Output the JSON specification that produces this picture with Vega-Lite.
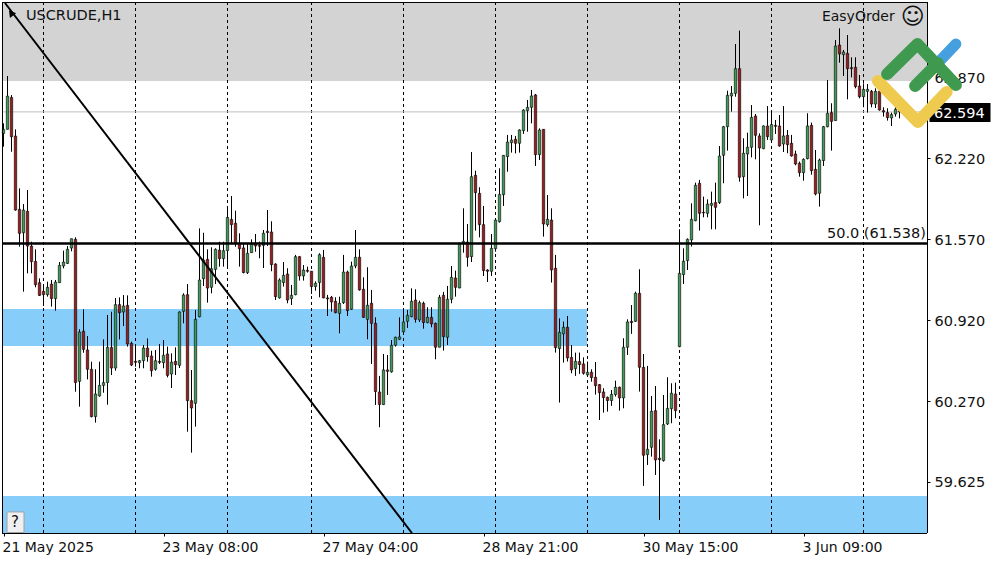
{"$schema":"https://vega.github.io/schema/vega-lite/v6.json","width":925,"height":531,"autosize":{"type":"none"},"padding":{"left":2,"top":2,"right":73,"bottom":29},"background":"#ffffff","config":{"view":{"stroke":null},"axis":{"grid":false,"title":null},"scale":{"continuousPadding":0}},
"datasets":{"candles":[
{"i":0,"o":62.421,"h":62.502,"l":62.315,"c":62.454,"d":"u"},
{"i":1,"o":62.454,"h":62.882,"l":62.454,"c":62.721,"d":"u"},
{"i":2,"o":62.710,"h":62.729,"l":62.274,"c":62.395,"d":"d"},
{"i":3,"o":62.400,"h":62.454,"l":61.801,"c":61.806,"d":"d"},
{"i":4,"o":61.812,"h":61.980,"l":61.512,"c":61.619,"d":"d"},
{"i":5,"o":61.624,"h":61.854,"l":61.151,"c":61.806,"d":"u"},
{"i":6,"o":61.796,"h":61.967,"l":61.298,"c":61.517,"d":"d"},
{"i":7,"o":61.517,"h":61.552,"l":61.298,"c":61.392,"d":"d"},
{"i":8,"o":61.394,"h":61.491,"l":61.186,"c":61.207,"d":"d"},
{"i":9,"o":61.223,"h":61.258,"l":61.116,"c":61.121,"d":"d"},
{"i":10,"o":61.154,"h":61.212,"l":61.036,"c":61.127,"d":"d"},
{"i":11,"o":61.127,"h":61.231,"l":61.111,"c":61.186,"d":"u"},
{"i":12,"o":61.212,"h":61.245,"l":61.031,"c":61.095,"d":"d"},
{"i":13,"o":61.095,"h":61.245,"l":60.998,"c":61.228,"d":"u"},
{"i":14,"o":61.223,"h":61.389,"l":61.223,"c":61.362,"d":"u"},
{"i":15,"o":61.357,"h":61.480,"l":61.338,"c":61.389,"d":"u"},
{"i":16,"o":61.378,"h":61.517,"l":61.373,"c":61.491,"d":"u"},
{"i":17,"o":61.501,"h":61.576,"l":61.475,"c":61.576,"d":"u"},
{"i":18,"o":61.571,"h":61.587,"l":60.348,"c":60.421,"d":"d"},
{"i":19,"o":60.431,"h":60.849,"l":60.228,"c":60.827,"d":"u"},
{"i":20,"o":60.833,"h":61.009,"l":60.661,"c":60.688,"d":"d"},
{"i":21,"o":60.683,"h":60.795,"l":60.447,"c":60.528,"d":"d"},
{"i":22,"o":60.528,"h":60.589,"l":60.142,"c":60.148,"d":"d"},
{"i":23,"o":60.148,"h":60.528,"l":60.100,"c":60.330,"d":"u"},
{"i":24,"o":60.314,"h":60.589,"l":60.308,"c":60.399,"d":"u"},
{"i":25,"o":60.399,"h":60.768,"l":60.340,"c":60.421,"d":"u"},
{"i":26,"o":60.421,"h":60.964,"l":60.244,"c":60.704,"d":"u"},
{"i":27,"o":60.704,"h":60.990,"l":60.482,"c":60.538,"d":"d"},
{"i":28,"o":60.538,"h":61.100,"l":60.517,"c":61.047,"d":"u"},
{"i":29,"o":61.047,"h":61.105,"l":60.768,"c":60.982,"d":"d"},
{"i":30,"o":60.988,"h":61.124,"l":60.875,"c":61.036,"d":"u"},
{"i":31,"o":61.041,"h":61.121,"l":60.710,"c":60.731,"d":"d"},
{"i":32,"o":60.736,"h":60.750,"l":60.554,"c":60.562,"d":"d"},
{"i":33,"o":60.592,"h":60.723,"l":60.549,"c":60.584,"d":"d"},
{"i":34,"o":60.581,"h":60.603,"l":60.536,"c":60.597,"d":"u"},
{"i":35,"o":60.597,"h":60.723,"l":60.536,"c":60.699,"d":"u"},
{"i":36,"o":60.699,"h":60.776,"l":60.589,"c":60.629,"d":"d"},
{"i":37,"o":60.635,"h":60.677,"l":60.469,"c":60.517,"d":"d"},
{"i":38,"o":60.528,"h":60.683,"l":60.517,"c":60.597,"d":"u"},
{"i":39,"o":60.592,"h":60.731,"l":60.570,"c":60.584,"d":"d"},
{"i":40,"o":60.581,"h":60.763,"l":60.536,"c":60.640,"d":"u"},
{"i":41,"o":60.651,"h":60.710,"l":60.463,"c":60.479,"d":"d"},
{"i":42,"o":60.490,"h":60.656,"l":60.378,"c":60.586,"d":"u"},
{"i":43,"o":60.592,"h":60.704,"l":60.482,"c":60.565,"d":"d"},
{"i":44,"o":60.560,"h":60.993,"l":60.538,"c":60.988,"d":"u"},
{"i":45,"o":60.993,"h":61.138,"l":60.897,"c":61.124,"d":"u"},
{"i":46,"o":61.127,"h":61.212,"l":60.027,"c":60.276,"d":"d"},
{"i":47,"o":60.276,"h":60.522,"l":59.859,"c":60.217,"d":"d"},
{"i":48,"o":60.255,"h":61.004,"l":60.068,"c":60.929,"d":"u"},
{"i":49,"o":60.950,"h":61.659,"l":60.945,"c":61.245,"d":"u"},
{"i":50,"o":61.255,"h":61.624,"l":61.196,"c":61.405,"d":"u"},
{"i":51,"o":61.410,"h":61.491,"l":61.063,"c":61.180,"d":"d"},
{"i":52,"o":61.186,"h":61.507,"l":61.138,"c":61.335,"d":"u"},
{"i":53,"o":61.330,"h":61.499,"l":61.212,"c":61.491,"d":"u"},
{"i":54,"o":61.485,"h":61.552,"l":61.352,"c":61.416,"d":"d"},
{"i":55,"o":61.416,"h":61.552,"l":61.352,"c":61.480,"d":"u"},
{"i":56,"o":61.480,"h":61.838,"l":61.335,"c":61.747,"d":"u"},
{"i":57,"o":61.731,"h":61.919,"l":61.533,"c":61.689,"d":"d"},
{"i":58,"o":61.700,"h":61.801,"l":61.512,"c":61.539,"d":"d"},
{"i":59,"o":61.539,"h":61.620,"l":61.352,"c":61.496,"d":"d"},
{"i":60,"o":61.502,"h":61.539,"l":61.298,"c":61.304,"d":"d"},
{"i":61,"o":61.304,"h":61.539,"l":61.293,"c":61.459,"d":"u"},
{"i":62,"o":61.464,"h":61.571,"l":61.464,"c":61.539,"d":"u"},
{"i":63,"o":61.539,"h":61.614,"l":61.472,"c":61.518,"d":"d"},
{"i":64,"o":61.523,"h":61.553,"l":61.419,"c":61.515,"d":"d"},
{"i":65,"o":61.523,"h":61.646,"l":61.341,"c":61.620,"d":"u"},
{"i":66,"o":61.636,"h":61.807,"l":61.518,"c":61.625,"d":"d"},
{"i":67,"o":61.630,"h":61.716,"l":61.315,"c":61.368,"d":"d"},
{"i":68,"o":61.373,"h":61.379,"l":61.084,"c":61.111,"d":"d"},
{"i":69,"o":61.101,"h":61.258,"l":61.095,"c":61.245,"d":"u"},
{"i":70,"o":61.224,"h":61.389,"l":61.192,"c":61.282,"d":"u"},
{"i":71,"o":61.293,"h":61.339,"l":61.058,"c":61.084,"d":"d"},
{"i":72,"o":61.095,"h":61.205,"l":61.044,"c":61.122,"d":"u"},
{"i":73,"o":61.127,"h":61.446,"l":61.122,"c":61.432,"d":"u"},
{"i":74,"o":61.432,"h":61.438,"l":61.240,"c":61.277,"d":"d"},
{"i":75,"o":61.277,"h":61.365,"l":61.240,"c":61.325,"d":"u"},
{"i":76,"o":61.323,"h":61.352,"l":61.304,"c":61.315,"d":"d"},
{"i":77,"o":61.315,"h":61.315,"l":61.133,"c":61.192,"d":"d"},
{"i":78,"o":61.192,"h":61.234,"l":61.159,"c":61.218,"d":"u"},
{"i":79,"o":61.224,"h":61.459,"l":61.106,"c":61.448,"d":"u"},
{"i":80,"o":61.427,"h":61.486,"l":61.098,"c":61.101,"d":"d"},
{"i":81,"o":61.101,"h":61.125,"l":60.956,"c":61.093,"d":"d"},
{"i":82,"o":61.106,"h":61.117,"l":60.991,"c":61.068,"d":"d"},
{"i":83,"o":61.074,"h":61.106,"l":60.977,"c":60.983,"d":"d"},
{"i":84,"o":60.977,"h":61.111,"l":60.817,"c":61.058,"d":"u"},
{"i":85,"o":61.063,"h":61.446,"l":61.052,"c":61.309,"d":"u"},
{"i":86,"o":61.309,"h":61.320,"l":60.956,"c":60.999,"d":"d"},
{"i":87,"o":61.010,"h":61.392,"l":61.004,"c":61.357,"d":"u"},
{"i":88,"o":61.357,"h":61.646,"l":61.339,"c":61.427,"d":"u"},
{"i":89,"o":61.427,"h":61.491,"l":61.159,"c":61.165,"d":"d"},
{"i":90,"o":61.170,"h":61.266,"l":60.940,"c":60.945,"d":"d"},
{"i":91,"o":60.929,"h":61.347,"l":60.769,"c":61.042,"d":"u"},
{"i":92,"o":61.058,"h":61.165,"l":60.571,"c":60.897,"d":"d"},
{"i":93,"o":60.897,"h":60.945,"l":60.242,"c":60.349,"d":"d"},
{"i":94,"o":60.346,"h":60.475,"l":60.063,"c":60.245,"d":"d"},
{"i":95,"o":60.245,"h":60.651,"l":60.242,"c":60.523,"d":"u"},
{"i":96,"o":60.523,"h":60.643,"l":60.322,"c":60.512,"d":"d"},
{"i":97,"o":60.507,"h":60.763,"l":60.501,"c":60.721,"d":"u"},
{"i":98,"o":60.721,"h":60.790,"l":60.710,"c":60.785,"d":"u"},
{"i":99,"o":60.769,"h":60.945,"l":60.763,"c":60.788,"d":"u"},
{"i":100,"o":60.828,"h":61.004,"l":60.812,"c":60.908,"d":"u"},
{"i":101,"o":60.913,"h":61.004,"l":60.860,"c":60.961,"d":"u"},
{"i":102,"o":60.951,"h":61.178,"l":60.945,"c":61.074,"d":"u"},
{"i":103,"o":61.084,"h":61.170,"l":60.903,"c":60.929,"d":"d"},
{"i":104,"o":60.924,"h":61.079,"l":60.908,"c":61.063,"d":"u"},
{"i":105,"o":61.058,"h":61.071,"l":60.854,"c":60.903,"d":"d"},
{"i":106,"o":60.903,"h":61.026,"l":60.897,"c":60.945,"d":"u"},
{"i":107,"o":60.945,"h":61.026,"l":60.865,"c":60.892,"d":"d"},
{"i":108,"o":60.897,"h":60.903,"l":60.608,"c":60.705,"d":"d"},
{"i":109,"o":60.705,"h":61.125,"l":60.705,"c":61.106,"d":"u"},
{"i":110,"o":61.122,"h":61.149,"l":60.678,"c":60.790,"d":"d"},
{"i":111,"o":60.785,"h":61.197,"l":60.723,"c":61.090,"d":"u"},
{"i":112,"o":61.090,"h":61.357,"l":61.058,"c":61.266,"d":"u"},
{"i":113,"o":61.261,"h":61.320,"l":61.111,"c":61.186,"d":"d"},
{"i":114,"o":61.181,"h":61.545,"l":61.178,"c":61.539,"d":"u"},
{"i":115,"o":61.539,"h":61.820,"l":61.464,"c":61.555,"d":"u"},
{"i":116,"o":61.550,"h":61.694,"l":61.352,"c":61.427,"d":"d"},
{"i":117,"o":61.432,"h":62.272,"l":61.389,"c":62.074,"d":"u"},
{"i":118,"o":62.085,"h":62.122,"l":61.641,"c":61.946,"d":"d"},
{"i":119,"o":61.940,"h":61.989,"l":61.587,"c":61.689,"d":"d"},
{"i":120,"o":61.689,"h":61.839,"l":61.277,"c":61.320,"d":"d"},
{"i":121,"o":61.325,"h":61.331,"l":61.229,"c":61.315,"d":"d"},
{"i":122,"o":61.315,"h":61.614,"l":61.277,"c":61.499,"d":"u"},
{"i":123,"o":61.496,"h":61.740,"l":61.472,"c":61.726,"d":"u"},
{"i":124,"o":61.713,"h":62.141,"l":61.705,"c":61.932,"d":"u"},
{"i":125,"o":61.930,"h":62.248,"l":61.839,"c":62.245,"d":"u"},
{"i":126,"o":62.235,"h":62.409,"l":62.114,"c":62.352,"d":"u"},
{"i":127,"o":62.347,"h":62.409,"l":62.267,"c":62.368,"d":"u"},
{"i":128,"o":62.374,"h":62.401,"l":62.261,"c":62.342,"d":"d"},
{"i":129,"o":62.342,"h":62.454,"l":62.267,"c":62.449,"d":"u"},
{"i":130,"o":62.443,"h":62.615,"l":62.417,"c":62.609,"d":"u"},
{"i":131,"o":62.604,"h":62.690,"l":62.435,"c":62.631,"d":"u"},
{"i":132,"o":62.631,"h":62.770,"l":62.502,"c":62.722,"d":"u"},
{"i":133,"o":62.730,"h":62.738,"l":62.160,"c":62.251,"d":"d"},
{"i":134,"o":62.251,"h":62.462,"l":62.208,"c":62.449,"d":"u"},
{"i":135,"o":62.454,"h":62.454,"l":61.593,"c":61.694,"d":"d"},
{"i":136,"o":61.689,"h":61.927,"l":61.673,"c":61.732,"d":"u"},
{"i":137,"o":61.726,"h":61.820,"l":61.224,"c":61.325,"d":"d"},
{"i":138,"o":61.339,"h":61.446,"l":60.662,"c":60.702,"d":"d"},
{"i":139,"o":60.694,"h":60.937,"l":60.261,"c":60.825,"d":"u"},
{"i":140,"o":60.812,"h":60.911,"l":60.582,"c":60.865,"d":"u"},
{"i":141,"o":60.865,"h":60.956,"l":60.590,"c":60.619,"d":"d"},
{"i":142,"o":60.624,"h":60.723,"l":60.496,"c":60.523,"d":"d"},
{"i":143,"o":60.533,"h":60.662,"l":60.475,"c":60.592,"d":"u"},
{"i":144,"o":60.590,"h":60.662,"l":60.491,"c":60.566,"d":"d"},
{"i":145,"o":60.571,"h":60.624,"l":60.485,"c":60.496,"d":"d"},
{"i":146,"o":60.483,"h":60.590,"l":60.475,"c":60.504,"d":"u"},
{"i":147,"o":60.504,"h":60.528,"l":60.429,"c":60.461,"d":"d"},
{"i":148,"o":60.464,"h":60.587,"l":60.325,"c":60.397,"d":"d"},
{"i":149,"o":60.405,"h":60.410,"l":60.121,"c":60.341,"d":"d"},
{"i":150,"o":60.346,"h":60.376,"l":60.180,"c":60.301,"d":"d"},
{"i":151,"o":60.303,"h":60.309,"l":60.188,"c":60.277,"d":"d"},
{"i":152,"o":60.277,"h":60.362,"l":60.234,"c":60.327,"d":"u"},
{"i":153,"o":60.325,"h":60.437,"l":60.309,"c":60.384,"d":"u"},
{"i":154,"o":60.384,"h":60.389,"l":60.196,"c":60.298,"d":"d"},
{"i":155,"o":60.298,"h":60.777,"l":60.215,"c":60.705,"d":"u"},
{"i":156,"o":60.705,"h":60.929,"l":60.643,"c":60.908,"d":"u"},
{"i":157,"o":60.913,"h":61.044,"l":60.812,"c":60.903,"d":"d"},
{"i":158,"o":60.913,"h":61.151,"l":60.908,"c":61.138,"d":"u"},
{"i":159,"o":61.138,"h":61.331,"l":60.349,"c":60.544,"d":"d"},
{"i":160,"o":60.544,"h":60.651,"l":59.592,"c":59.838,"d":"d"},
{"i":161,"o":59.843,"h":60.555,"l":59.760,"c":59.886,"d":"u"},
{"i":162,"o":59.902,"h":60.314,"l":59.827,"c":60.191,"d":"u"},
{"i":163,"o":60.196,"h":60.394,"l":59.680,"c":59.800,"d":"d"},
{"i":164,"o":59.814,"h":59.966,"l":59.319,"c":59.803,"d":"d"},
{"i":165,"o":59.795,"h":60.322,"l":59.787,"c":60.084,"d":"u"},
{"i":166,"o":60.089,"h":60.464,"l":60.081,"c":60.215,"d":"u"},
{"i":167,"o":60.212,"h":60.416,"l":60.095,"c":60.336,"d":"u"},
{"i":168,"o":60.330,"h":60.421,"l":60.135,"c":60.196,"d":"d"},
{"i":169,"o":60.710,"h":61.652,"l":60.705,"c":61.298,"d":"u"},
{"i":170,"o":61.288,"h":61.499,"l":61.213,"c":61.395,"d":"u"},
{"i":171,"o":61.400,"h":61.579,"l":61.325,"c":61.571,"d":"u"},
{"i":172,"o":61.566,"h":61.860,"l":61.513,"c":61.732,"d":"u"},
{"i":173,"o":61.721,"h":62.026,"l":61.716,"c":62.005,"d":"u"},
{"i":174,"o":62.021,"h":62.048,"l":61.641,"c":61.780,"d":"d"},
{"i":175,"o":61.788,"h":61.914,"l":61.748,"c":61.783,"d":"d"},
{"i":176,"o":61.780,"h":61.892,"l":61.748,"c":61.855,"d":"u"},
{"i":177,"o":61.844,"h":61.954,"l":61.652,"c":61.860,"d":"u"},
{"i":178,"o":61.866,"h":62.026,"l":61.652,"c":61.828,"d":"d"},
{"i":179,"o":61.866,"h":62.320,"l":61.855,"c":62.240,"d":"u"},
{"i":180,"o":62.246,"h":62.481,"l":62.021,"c":62.475,"d":"u"},
{"i":181,"o":62.475,"h":62.764,"l":62.283,"c":62.727,"d":"u"},
{"i":182,"o":62.722,"h":62.802,"l":62.596,"c":62.743,"d":"u"},
{"i":183,"o":62.743,"h":63.139,"l":62.716,"c":62.941,"d":"u"},
{"i":184,"o":62.941,"h":63.246,"l":62.034,"c":62.069,"d":"d"},
{"i":185,"o":62.074,"h":62.382,"l":61.900,"c":62.262,"d":"u"},
{"i":186,"o":62.256,"h":62.427,"l":61.919,"c":62.310,"d":"u"},
{"i":187,"o":62.310,"h":62.649,"l":62.229,"c":62.550,"d":"u"},
{"i":188,"o":62.561,"h":62.577,"l":62.213,"c":62.406,"d":"d"},
{"i":189,"o":62.401,"h":62.422,"l":61.684,"c":62.304,"d":"d"},
{"i":190,"o":62.299,"h":62.486,"l":62.294,"c":62.481,"d":"u"},
{"i":191,"o":62.481,"h":62.641,"l":62.369,"c":62.395,"d":"d"},
{"i":192,"o":62.369,"h":62.609,"l":62.347,"c":62.492,"d":"u"},
{"i":193,"o":62.486,"h":62.529,"l":62.417,"c":62.478,"d":"d"},
{"i":194,"o":62.481,"h":62.569,"l":62.315,"c":62.320,"d":"d"},
{"i":195,"o":62.336,"h":62.641,"l":62.272,"c":62.401,"d":"u"},
{"i":196,"o":62.406,"h":62.449,"l":62.262,"c":62.331,"d":"d"},
{"i":197,"o":62.342,"h":62.409,"l":62.235,"c":62.240,"d":"d"},
{"i":198,"o":62.256,"h":62.283,"l":62.165,"c":62.176,"d":"d"},
{"i":199,"o":62.181,"h":62.195,"l":62.074,"c":62.106,"d":"d"},
{"i":200,"o":62.106,"h":62.221,"l":62.042,"c":62.213,"d":"u"},
{"i":201,"o":62.219,"h":62.583,"l":62.213,"c":62.481,"d":"u"},
{"i":202,"o":62.486,"h":62.508,"l":62.090,"c":62.122,"d":"d"},
{"i":203,"o":62.133,"h":62.288,"l":61.924,"c":61.935,"d":"d"},
{"i":204,"o":61.941,"h":62.219,"l":61.834,"c":62.208,"d":"u"},
{"i":205,"o":62.203,"h":62.481,"l":62.160,"c":62.475,"d":"u"},
{"i":206,"o":62.475,"h":62.850,"l":62.470,"c":62.583,"d":"u"},
{"i":207,"o":62.588,"h":62.663,"l":62.283,"c":62.518,"d":"d"},
{"i":208,"o":62.524,"h":63.171,"l":62.524,"c":63.123,"d":"u"},
{"i":209,"o":63.131,"h":63.265,"l":62.989,"c":63.059,"d":"d"},
{"i":210,"o":63.053,"h":63.091,"l":62.882,"c":63.075,"d":"u"},
{"i":211,"o":63.064,"h":63.211,"l":62.695,"c":62.941,"d":"d"},
{"i":212,"o":62.949,"h":63.032,"l":62.871,"c":62.941,"d":"d"},
{"i":213,"o":62.952,"h":63.032,"l":62.783,"c":62.797,"d":"d"},
{"i":214,"o":62.802,"h":62.890,"l":62.703,"c":62.716,"d":"d"},
{"i":215,"o":62.716,"h":62.823,"l":62.631,"c":62.775,"d":"u"},
{"i":216,"o":62.759,"h":62.818,"l":62.588,"c":62.775,"d":"u"},
{"i":217,"o":62.759,"h":62.770,"l":62.631,"c":62.657,"d":"d"},
{"i":218,"o":62.657,"h":62.783,"l":62.625,"c":62.759,"d":"u"},
{"i":219,"o":62.759,"h":62.783,"l":62.604,"c":62.609,"d":"d"},
{"i":220,"o":62.604,"h":62.631,"l":62.556,"c":62.593,"d":"d"},
{"i":221,"o":62.588,"h":62.623,"l":62.524,"c":62.548,"d":"d"},
{"i":222,"o":62.545,"h":62.588,"l":62.481,"c":62.572,"d":"u"},
{"i":223,"o":62.577,"h":62.631,"l":62.556,"c":62.615,"d":"u"},
{"i":224,"o":62.604,"h":62.631,"l":62.542,"c":62.594,"d":"d"}
]},
"layer":[
{"data":{"values":[{"a":-0.375,"b":230.875,"t":63.476,"u":62.842}]},"mark":{"type":"rect","color":"#d3d3d3"},"encoding":{"x":{"field":"a","type":"quantitative","title":null,"scale":{"domain":[-0.375,230.875],"nice":false,"zero":false,"padding":0},"axis":{"values":[0,40,80,120,160,200],"labelExpr":"['21 May 2025','23 May 08:00','27 May 04:00','28 May 21:00','30 May 15:00','3 Jun 09:00'][datum.value/40]","labelAlign":"left","labelFont":"DejaVu Sans","labelFontSize":14,"labelColor":"#111111","labelOverlap":false,"labelFlush":false,"labelBound":false,"labelPadding":4,"labelOffset":-1.5,"tickSize":3,"tickColor":"#000000","domain":false,"grid":false,"title":null,"orient":"bottom"}},"x2":{"field":"b"},"y":{"field":"t","type":"quantitative","title":null,"scale":{"domain":[59.214,63.476],"nice":false,"zero":false},"axis":{"values":[62.87,62.22,61.57,60.92,60.27,59.625],"format":".3f","labelAlign":"left","labelFont":"DejaVu Sans","labelFontSize":14.5,"labelColor":"#111111","labelOverlap":false,"labelBound":false,"labelPadding":4,"labelOffset":1,"tickSize":3,"tickColor":"#000000","domain":false,"grid":false,"title":null,"orient":"right"}},"y2":{"field":"u"}}},
{"data":{"values":[{"a":-0.375,"b":145.875,"t":61.012,"u":60.715},{"a":-0.375,"b":230.875,"t":59.511,"u":59.214}]},"mark":{"type":"rect","color":"#87cdf9"},"encoding":{"x":{"field":"a","type":"quantitative","title":null},"x2":{"field":"b"},"y":{"field":"t","type":"quantitative","title":null},"y2":{"field":"u"}}},
{"data":{"values":[{"i":10},{"i":33},{"i":56},{"i":77},{"i":100},{"i":123},{"i":146},{"i":169},{"i":192},{"i":215}]},"mark":{"type":"rule","color":"#000000","strokeWidth":1,"strokeDash":[3,3]},"encoding":{"x":{"field":"i","type":"quantitative","title":null}}},
{"data":{"values":[{"p":62.594}]},"mark":{"type":"rule","color":"#c0c0c0","strokeWidth":1},"encoding":{"y":{"field":"p","type":"quantitative","title":null}}},
{"data":{"name":"candles"},"mark":{"type":"rule","color":"#000000","strokeWidth":1},"encoding":{"x":{"field":"i","type":"quantitative","title":null},"y":{"field":"h","type":"quantitative","title":null},"y2":{"field":"l"}}},
{"data":{"name":"candles"},"mark":{"type":"bar","size":2.4,"stroke":"#000000","strokeWidth":0.6},"encoding":{"x":{"field":"i","type":"quantitative","title":null},"y":{"field":"o","type":"quantitative","title":null},"y2":{"field":"c"},"fill":{"field":"d","type":"nominal","legend":null,"scale":{"domain":["u","d"],"range":["#3f9a55","#9a1c1c"]}}}},
{"data":{"values":[{"p":61.538}]},"mark":{"type":"rule","color":"#000000","strokeWidth":2.4},"encoding":{"y":{"field":"p","type":"quantitative","title":null}}},
{"data":{"values":[{"i":0.375,"p":63.468},{"i":102.1,"p":59.214}]},"mark":{"type":"line","color":"#000000","strokeWidth":2},"encoding":{"x":{"field":"i","type":"quantitative","title":null},"y":{"field":"p","type":"quantitative","title":null}}},
{"data":{"values":[{"i":1.875,"p":63.388}]},"mark":{"type":"point","shape":"triangle-up","angle":-37,"size":60,"filled":true,"color":"#000000","opacity":1},"encoding":{"x":{"field":"i","type":"quantitative","title":null},"y":{"field":"p","type":"quantitative","title":null}}},
{"data":{"values":[{"a":-0.25},{"a":231}]},"mark":{"type":"rule","color":"#000000","strokeWidth":1},"encoding":{"x":{"field":"a","type":"quantitative","title":null}}},
{"data":{"values":[{"p":63.472},{"p":59.210}]},"mark":{"type":"rule","color":"#000000","strokeWidth":1},"encoding":{"y":{"field":"p","type":"quantitative","title":null}}},
{"data":{"values":[{"a":0.875,"b":5.125,"t":59.383,"u":59.218}]},"mark":{"type":"rect","fill":"#f0f0f0","stroke":"#a0a0a0","strokeWidth":1,"cornerRadius":1},"encoding":{"x":{"field":"a","type":"quantitative","title":null},"x2":{"field":"b"},"y":{"field":"t","type":"quantitative","title":null},"y2":{"field":"u"}}},
{"data":{"values":[{"i":2.9,"p":59.302,"t":"?"}]},"mark":{"type":"text","font":"DejaVu Sans","fontSize":15,"align":"center","baseline":"middle","color":"#111111"},"encoding":{"x":{"field":"i","type":"quantitative","title":null},"y":{"field":"p","type":"quantitative","title":null},"text":{"field":"t"}}},
{"data":{"values":[{"i":5.6,"p":63.364,"t":"USCRUDE,H1"}]},"mark":{"type":"text","font":"DejaVu Sans","fontSize":14.5,"align":"left","baseline":"middle","color":"#111111"},"encoding":{"x":{"field":"i","type":"quantitative","title":null},"y":{"field":"p","type":"quantitative","title":null},"text":{"field":"t"}}},
{"data":{"values":[{"i":204.6,"p":63.356,"t":"EasyOrder"}]},"mark":{"type":"text","font":"DejaVu Sans","fontSize":14,"align":"left","baseline":"middle","color":"#111111"},"encoding":{"x":{"field":"i","type":"quantitative","title":null},"y":{"field":"p","type":"quantitative","title":null},"text":{"field":"t"}}},
{"data":{"values":[{"i":227.3,"p":63.352,"t":"☺"}]},"mark":{"type":"text","font":"DejaVu Sans","fontSize":23,"align":"center","baseline":"middle","color":"#111111"},"encoding":{"x":{"field":"i","type":"quantitative","title":null},"y":{"field":"p","type":"quantitative","title":null},"text":{"field":"t"}}},
{"data":{"values":[{"i":230.6,"p":61.610,"t":"50.0 (61.538)"}]},"mark":{"type":"text","font":"DejaVu Sans","fontSize":14.5,"align":"right","baseline":"middle","color":"#111111"},"encoding":{"x":{"field":"i","type":"quantitative","title":null},"y":{"field":"p","type":"quantitative","title":null},"text":{"field":"t"}}},
{"data":{"values":[{"a":231.5,"b":246.75,"t":62.665,"u":62.513}]},"mark":{"type":"rect","color":"#000000"},"encoding":{"x":{"field":"a","type":"quantitative","title":null},"x2":{"field":"b"},"y":{"field":"t","type":"quantitative","title":null},"y2":{"field":"u"}}},
{"data":{"values":[{"i":232.6,"p":62.575,"t":"62.594"}]},"mark":{"type":"text","font":"DejaVu Sans","fontSize":14.5,"align":"left","baseline":"middle","color":"#ffffff"},"encoding":{"x":{"field":"i","type":"quantitative","title":null},"y":{"field":"p","type":"quantitative","title":null},"text":{"field":"t"}}},
{"data":{"values":[{"i":233.6,"p":62.986,"s":0},{"i":238.1,"p":63.139,"s":1}]},"mark":{"type":"line","color":"#46a0e0","strokeWidth":11,"strokeCap":"round"},"encoding":{"x":{"field":"i","type":"quantitative","title":null},"y":{"field":"p","type":"quantitative","title":null},"order":{"field":"s"}}},
{"data":{"values":[{"i":218.6,"p":62.842,"s":0},{"i":228.6,"p":62.513,"s":1},{"i":235.8,"p":62.754,"s":2}]},"mark":{"type":"line","color":"#eecb4f","strokeWidth":12,"strokeCap":"round","strokeJoin":"round"},"encoding":{"x":{"field":"i","type":"quantitative","title":null},"y":{"field":"p","type":"quantitative","title":null},"order":{"field":"s"}}},
{"data":{"values":[{"i":220.9,"p":62.898,"s":0},{"i":228.5,"p":63.139,"s":1},{"i":238.1,"p":62.810,"s":2}]},"mark":{"type":"line","color":"#3f9a50","strokeWidth":12,"strokeCap":"round","strokeJoin":"round"},"encoding":{"x":{"field":"i","type":"quantitative","title":null},"y":{"field":"p","type":"quantitative","title":null},"order":{"field":"s"}}},
{"data":{"values":[{"i":227.9,"p":62.802,"s":0},{"i":233.6,"p":62.986,"s":1}]},"mark":{"type":"line","color":"#3f9a50","strokeWidth":12,"strokeCap":"round"},"encoding":{"x":{"field":"i","type":"quantitative","title":null},"y":{"field":"p","type":"quantitative","title":null},"order":{"field":"s"}}}
]}
